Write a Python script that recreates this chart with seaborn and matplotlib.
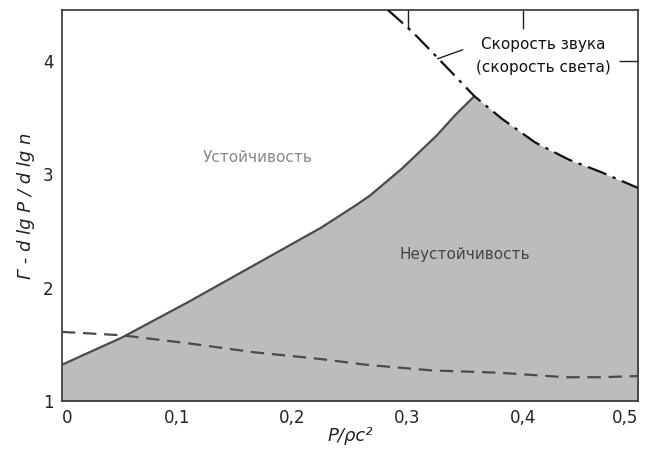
import numpy as np
import pandas as pd
import matplotlib
matplotlib.use("Agg")
import matplotlib.pyplot as plt
import seaborn as sns

# stability boundary (solid)
bound_x = [0.0, 0.052, 0.109, 0.167, 0.225, 0.254, 0.267, 0.295, 0.325, 0.342, 0.358]
bound_y = [1.32, 1.56, 1.87, 2.20, 2.53, 2.72, 2.81, 3.05, 3.34, 3.53, 3.69]

# speed of sound (dash-dot)
sound_x = [0.283, 0.304, 0.325, 0.342, 0.358, 0.382, 0.411, 0.440, 0.468, 0.500]
sound_y = [4.45, 4.26, 4.04, 3.86, 3.69, 3.49, 3.28, 3.13, 3.02, 2.88]

# lower dashed curve
dash_x = [0.0, 0.052, 0.109, 0.167, 0.206, 0.225, 0.264, 0.321, 0.379, 0.437, 0.466, 0.500]
dash_y = [1.61, 1.58, 1.51, 1.43, 1.39, 1.37, 1.32, 1.27, 1.25, 1.21, 1.21, 1.22]

x_ticks = [0, 0.1, 0.2, 0.3, 0.4, 0.5]
x_labels = ["0", "0,1", "0,2", "0,3", "0,4", "0,5"]
y_ticks = [1, 2, 3, 4]
y_labels = ["1", "2", "3", "4"]

sns.set_style("white")
plt.rcParams['font.family'] = ['DejaVu Sans']

fig = plt.figure(figsize=(6.49, 4.57), dpi=100)
ax = fig.add_axes([0.0955, 0.1225, 0.8875, 0.8555])

# shaded instability region
cut = sound_x.index(bound_x[-1]) + 1
fx = bound_x + sound_x[cut:]
fy = bound_y + sound_y[cut:]
ax.fill_between(fx, 1, fy, color='#bcbcbc', lw=0, zorder=1)

df_b = pd.DataFrame({'x': bound_x, 'y': bound_y})
df_s = pd.DataFrame({'x': sound_x, 'y': sound_y})
df_d = pd.DataFrame({'x': dash_x, 'y': dash_y})

sns.lineplot(data=df_b, x='x', y='y', ax=ax, color='#4a4a4a', lw=1.6, sort=False, zorder=3)
sns.lineplot(data=df_s, x='x', y='y', ax=ax, color='#111111', lw=1.6, sort=False, zorder=4,
             linestyle=(0, (9, 3, 1.5, 3)))
sns.lineplot(data=df_d, x='x', y='y', ax=ax, color='#4a4a4a', lw=1.6, sort=False, zorder=3,
             linestyle=(0, (6, 3.5)))

ax.set_xlim(0, 0.5)
ax.set_ylim(1, 4.45)
ax.set_xticks(x_ticks)
ax.set_xticklabels(x_labels, fontsize=12, color='#222222')
ax.set_yticks(y_ticks)
ax.set_yticklabels(y_labels, fontsize=12, color='#222222')
ax.tick_params(direction='in', length=14, width=1, color='#444444', pad=6)
ax.get_xticklabels()[-1].set_ha('right')
ax.get_xticklabels()[0].set_ha('left')

# extra ticks on top and right
ax_top = ax.secondary_xaxis('top')
ax_top.set_xticks([0.3, 0.4])
ax_top.set_xticklabels([])
ax_top.tick_params(direction='in', length=14, width=1, color='#222222')
ax_top.spines['top'].set_visible(False)
ax_right = ax.secondary_yaxis('right')
ax_right.set_yticks([4])
ax_right.set_yticklabels([])
ax_right.tick_params(direction='in', length=14, width=1, color='#222222')
ax_right.spines['right'].set_visible(False)

for s in ax.spines.values():
    s.set_color('#333333')
    s.set_linewidth(1.2)

ax.set_xlabel("P/ρc²", fontsize=13, style='italic', color='#222222', labelpad=0)
ax.set_ylabel("Γ - d lg P / d lg n", fontsize=13, style='italic', color='#222222', labelpad=6)

ax.text(0.17, 3.15, "Устойчивость", fontsize=11, color='#888888', ha='center', va='center')
ax.text(0.35, 2.29, "Неустойчивость", fontsize=11, color='#444444', ha='center', va='center')
ax.text(0.418, 4.15, "Скорость звука", fontsize=11, color='#111111', ha='center', va='center')
ax.text(0.418, 3.94, "(скорость света)", fontsize=11, color='#111111', ha='center', va='center')
ax.plot([0.326, 0.348], [4.02, 4.10], color='#111111', lw=0.9, zorder=5)

fig.savefig("out.png", dpi=100)
